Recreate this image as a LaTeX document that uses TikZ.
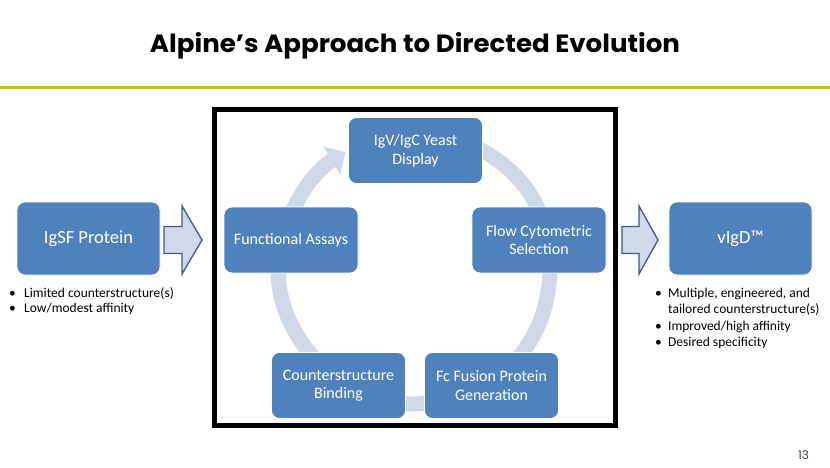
\documentclass[tikz,border=0pt]{standalone}
\usepackage{graphicx}
\usepackage{fontspec}
\setmainfont{Carlito}
\newfontfamily\titlefont{Poppins}
\usetikzlibrary{arrows.meta}
\definecolor{boxblue}{RGB}{79,129,189}
\definecolor{arcblue}{RGB}{208,216,232}
\definecolor{edgeblue}{RGB}{56,93,138}
\definecolor{rulegreen}{RGB}{187,198,30}
\definecolor{numgray}{RGB}{64,64,64}
\begin{document}
\begin{tikzpicture}
%[scale=1,every node/.style={circle,draw}]
[x=1pt,y=1pt,every node/.style={inner sep=0pt},
box/.style={rectangle,rounded corners=8pt,fill=boxblue,draw=white,line width=0.8pt,text=white,align=center,minimum width=134pt,minimum height=66pt,font=\fontsize{16}{18.5}\selectfont},
bigbox/.style={box,minimum width=143pt,minimum height=73pt,font=\fontsize{18.5}{22}\selectfont},
cyc/.style={draw=arcblue,line width=15pt,-{Triangle[width=32pt,length=16pt]}},
blockarrow/.style={fill=arcblue,draw=edgeblue,line width=1.3pt,line join=miter},
list/.style={anchor=base west,font=\fontsize{13.5}{15.5}\selectfont,text=black}]
\useasboundingbox[fill=white] (0,0) rectangle (830,467);
\node[anchor=base] (title) at (415,414) {\resizebox{530pt}{20pt}{\titlefont\bfseries Alpine’s Approach to Directed Evolution}};
\coordinate (rl) at (0,379);
\coordinate (rr) at (830,379);
\draw [rulegreen,line width=3pt] (rl) -- (rr);
\draw [black,line width=5pt] (214.5,41.5) rectangle (615.5,357.5);
\coordinate (c) at (415,199);
% cycle arrows
\draw [cyc] ([shift={(165:135pt)}]c) arc[start angle=165,end angle=121,radius=135pt];
\draw [cyc] ([shift={(80:135pt)}]c) arc[start angle=80,end angle=15,radius=135pt];
\draw [cyc] ([shift={(5:135pt)}]c) arc[start angle=5,end angle=-55,radius=135pt];
\draw [cyc] ([shift={(-62:135pt)}]c) arc[start angle=-62,end angle=-118,radius=135pt];
\draw [cyc] ([shift={(-122:135pt)}]c) arc[start angle=-122,end angle=-190,radius=135pt];
\node [box] (1) at (415.5,316.5) {IgV/IgC Yeast\\Display};
\node [box] (2) at (539,227) {Flow Cytometric\\Selection};
\node [box] (3) at (491.5,81.5) {Fc Fusion Protein\\Generation};
\node [box] (4) at (338.5,81.5) {Counterstructure\\Binding};
\node [box] (5) at (291,227) {Functional Assays};
\node [bigbox] (igsf) at (88.5,228.5) {IgSF Protein};
\node [bigbox] (vigd) at (740.5,228.5) {vIgD™};
\draw [blockarrow] (164,213.5) -- (182,213.5) -- (182,193) -- (202,227) -- (182,261) -- (182,240.5) -- (164,240.5) -- cycle;
\draw [blockarrow] (622,213.5) -- (639,213.5) -- (639,193) -- (658,227) -- (639,261) -- (639,240.5) -- (622,240.5) -- cycle;
\node [list] (lim) at (9,170) {\begin{tabular}[t]{@{}p{15pt}@{}l@{}}\textbullet & Limited counterstructure(s)\\ \textbullet & Low/modest affinity\end{tabular}};
\node [list,font=\fontsize{13.5}{16.5}\selectfont] (mult) at (655,170) {\begin{tabular}[t]{@{}p{13pt}@{}l@{}}\textbullet & Multiple, engineered, and\\ & tailored counterstructure(s)\\ \textbullet & Improved/high affinity\\ \textbullet & Desired specificity\end{tabular}};
\node [font=\titlefont\fontsize{12}{14}\selectfont,text=numgray] (num) at (803.5,12) {13};
\end{tikzpicture}
\end{document}
